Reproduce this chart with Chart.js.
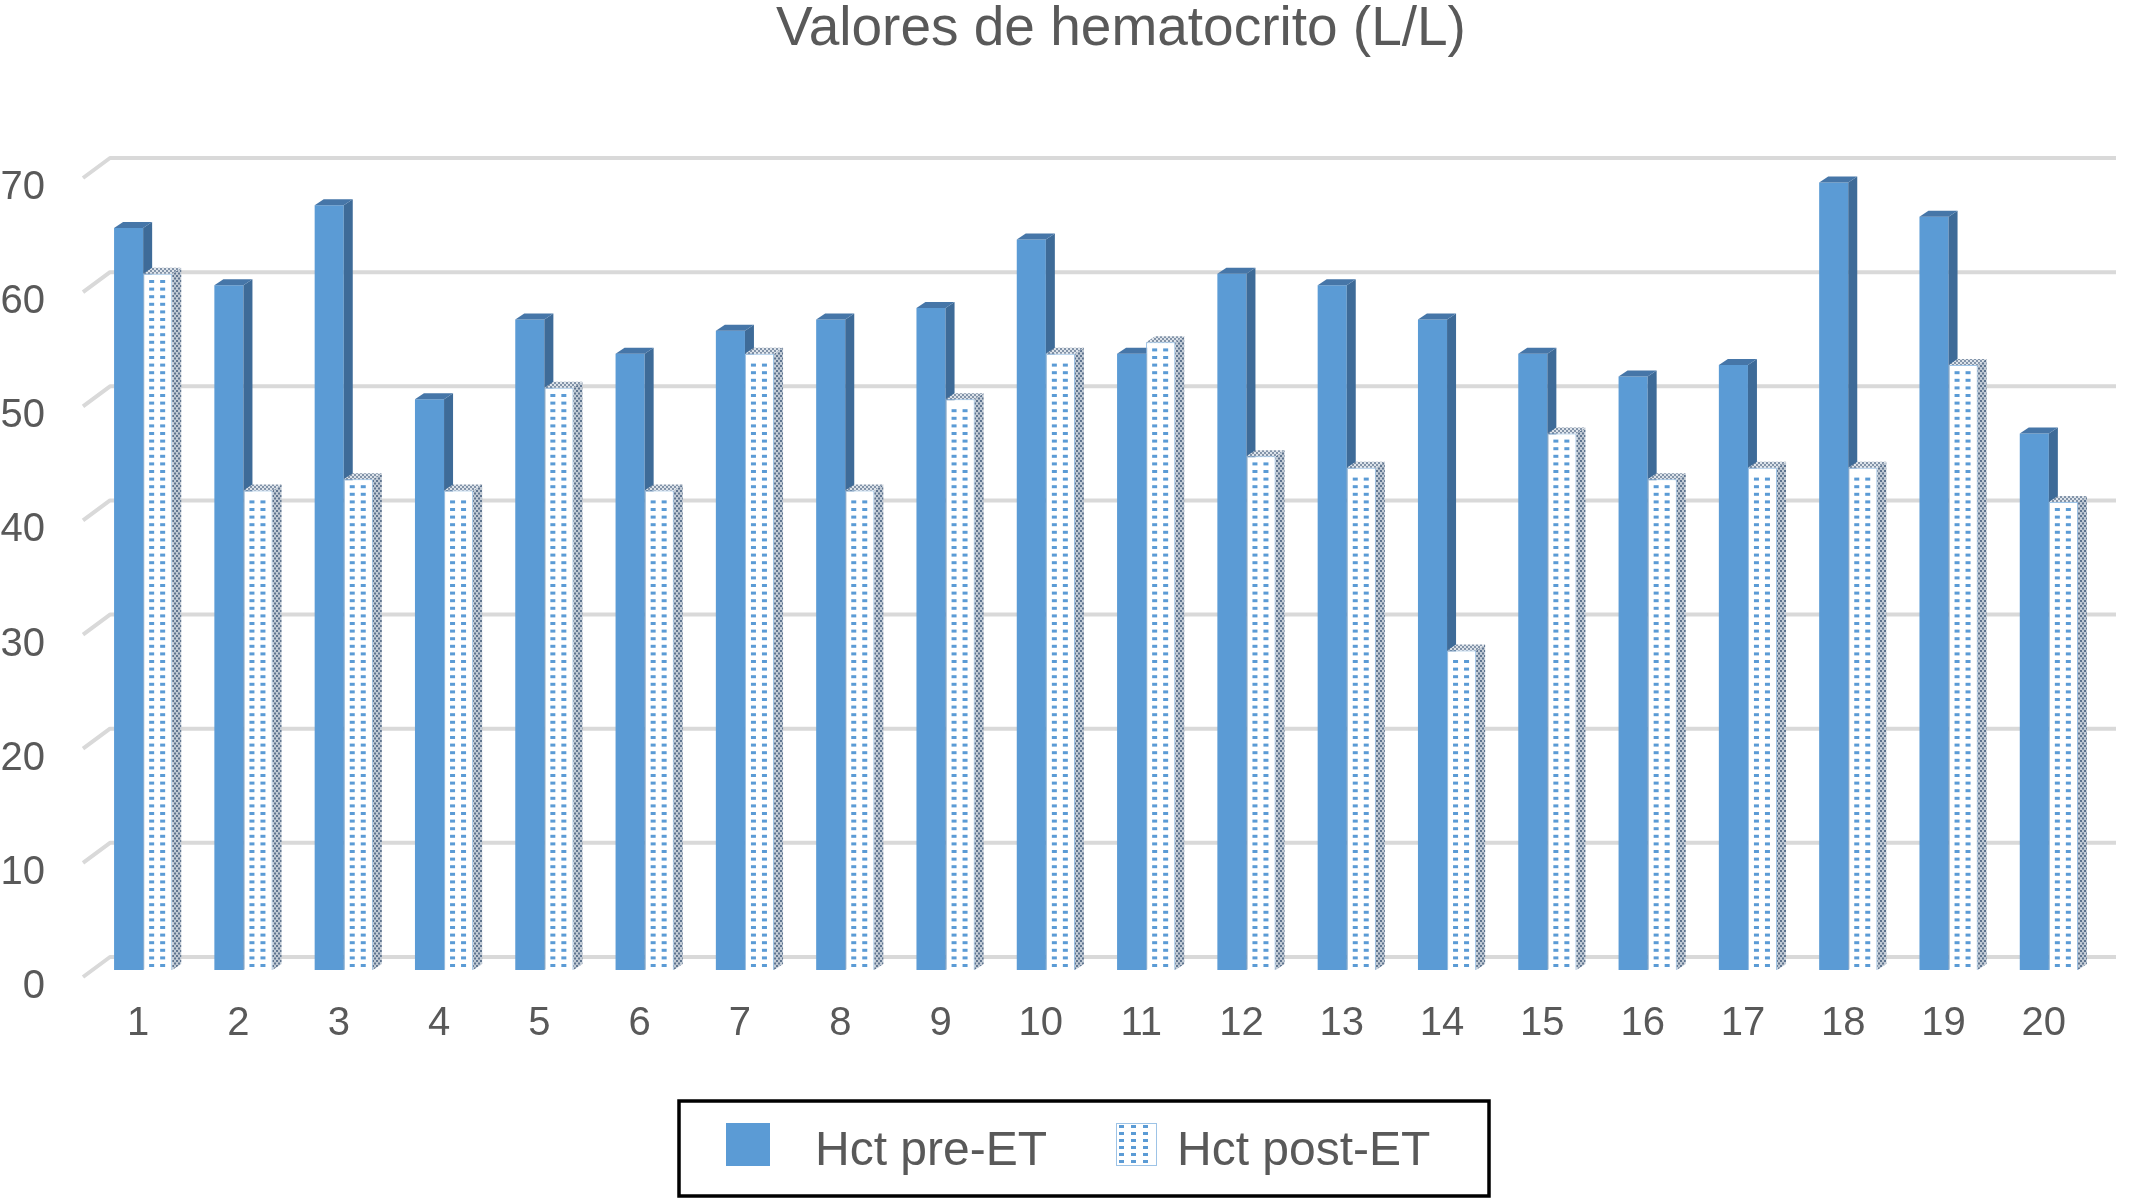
<!DOCTYPE html>
<html>
<head>
<meta charset="utf-8">
<script src="https://cdn.jsdelivr.net/npm/chart.js@4.4.0/dist/chart.umd.min.js"></script>
<style>
  html, body { margin: 0; padding: 0; background: #fff; }
</style>
</head>
<body>
<canvas id="hct-chart" width="2139" height="1201"></canvas>
<script>
let patients = ['1', '2', '3', '4', '5', '6', '7', '8', '9', '10',
    '11', '12', '13', '14', '15', '16', '17', '18', '19', '20'];
let hct_pre = [65, 60, 67, 50, 57, 54, 56, 57, 58, 64, 54, 61, 60, 57, 54, 52, 53, 69, 66, 47];
let hct_post = [61, 42, 43, 42, 51, 42, 54, 42, 50, 54, 55, 45, 44, 28, 47, 43, 44, 44, 53, 41];
let y_ticks = [0, 10, 20, 30, 40, 50, 60, 70];
let chart_title = 'Valores de hematocrito (L/L)';
let legend_labels = ['Hct pre-ET', 'Hct post-ET'];

const TEXT = '#595959';
const BLUE = '#5b9bd5';
const DX = 9, DY = 6;

Chart.defaults.font.family = '"Liberation Sans", Arial, sans-serif';

function makePattern(bg, dot, w, h) {
    const c = document.createElement('canvas');
    c.width = w; c.height = h;
    const g = c.getContext('2d');
    g.fillStyle = bg;
    g.fillRect(0, 0, w, h);
    g.fillStyle = dot;
    g.fillRect(0, 0, 2, 2);
    g.fillRect(w / 2, h / 2, 2, 2);
    return document.getElementById('hct-chart').getContext('2d').createPattern(c, 'repeat');
}

function poly(ctx, pts, fill) {
    ctx.beginPath();
    ctx.moveTo(pts[0][0], pts[0][1]);
    for (let k = 1; k < pts.length; k++) ctx.lineTo(pts[k][0], pts[k][1]);
    ctx.closePath();
    ctx.fillStyle = fill;
    ctx.fill();
}

const sidePattern = makePattern('#c2cbd5', '#5f7590', 4, 5);
const topPattern = makePattern('#dde3ea', '#8394a9', 4, 4);

// dashes on the front of the post bars
function dashes(ctx, l, top, base, x0, w) {
    ctx.fillStyle = BLUE;
    for (let yy = base - 6; yy > top + 3; yy -= 7.6) {
        ctx.fillRect(l + x0, yy, w, 3);
        ctx.fillRect(l + x0 + 11, yy, w, 3);
    }
}

const bars3d = {
    id: 'bars3d',
    beforeDatasetsDraw(chart) {
        const ctx = chart.ctx, y = chart.scales.y, area = chart.chartArea;
        ctx.save();
        ctx.strokeStyle = '#d9d9d9';
        ctx.lineWidth = 4;
        ctx.lineJoin = 'round';
        y.ticks.forEach(t => {
            const py = y.getPixelForValue(t.value);
            ctx.beginPath();
            ctx.moveTo(area.left - 10, py + 7);
            ctx.lineTo(area.left + 17, py - 13);
            ctx.lineTo(area.right + 17, py - 13);
            ctx.stroke();
        });
        ctx.restore();
    },
    afterDatasetsDraw(chart) {
        const ctx = chart.ctx;
        const pre = chart.getDatasetMeta(0), post = chart.getDatasetMeta(1);
        ctx.save();
        pre.data.forEach((el, i) => {
            let a = el.getProps(['x', 'y', 'base', 'width'], true);
            let l = a.x - a.width / 2, r = a.x + a.width / 2;
            poly(ctx, [[r, a.y], [r + DX, a.y - DY], [r + DX, a.base - DY], [r, a.base]], '#3e6b98');
            poly(ctx, [[l, a.y], [l + DX, a.y - DY], [r + DX, a.y - DY], [r, a.y]], '#4676a8');

            let p = post.data[i];
            p.draw(ctx);
            let b = p.getProps(['x', 'y', 'base', 'width'], true);
            l = b.x - b.width / 2; r = b.x + b.width / 2;
            dashes(ctx, l, b.y, b.base, 6, 5);
            poly(ctx, [[r, b.y], [r + DX, b.y - DY], [r + DX, b.base - DY], [r, b.base]], sidePattern);
            poly(ctx, [[l, b.y], [l + DX, b.y - DY], [r + DX, b.y - DY], [r, b.y]], topPattern);
        });
        ctx.restore();
    },
    afterDraw(chart) {
        const ctx = chart.ctx;
        ctx.save();
        // title
        ctx.fillStyle = TEXT;
        ctx.textAlign = 'center';
        ctx.textBaseline = 'middle';
        ctx.font = '55px "Liberation Sans", Arial, sans-serif';
        ctx.fillText(chart_title, 1121, 30);

        // legend
        ctx.strokeStyle = '#000';
        ctx.lineWidth = 3.5;
        ctx.strokeRect(679, 1101, 810, 95);
        ctx.fillStyle = BLUE;
        ctx.fillRect(726, 1123, 44, 43);
        ctx.fillStyle = '#9dc3e6';
        ctx.fillRect(1116, 1123, 41, 43);
        ctx.fillStyle = '#fff';
        ctx.fillRect(1117, 1124, 39, 41);
        ctx.fillStyle = BLUE;
        for (let yy = 1125; yy < 1163; yy += 7) {
            for (let xx = 1119; xx < 1155; xx += 12) ctx.fillRect(xx, yy, 5, 3);
        }
        ctx.fillStyle = TEXT;
        ctx.textAlign = 'left';
        ctx.font = '48px "Liberation Sans", Arial, sans-serif';
        ctx.fillText(legend_labels[0], 815, 1152);
        ctx.fillText(legend_labels[1], 1177, 1152);
        ctx.restore();
    }
};

new Chart(document.getElementById('hct-chart'), {
    type: 'bar',
    data: {
        labels: patients,
        datasets: [
            {
                label: legend_labels[0],
                data: hct_pre,
                backgroundColor: BLUE,
                borderWidth: 0,
                categoryPercentage: 0.58,
                barPercentage: 1.0
            },
            {
                label: legend_labels[1],
                data: hct_post,
                backgroundColor: '#ffffff',
                borderColor: '#9dc3e6',
                borderWidth: 1,
                categoryPercentage: 0.58,
                barPercentage: 1.0
            }
        ]
    },
    options: {
        responsive: false,
        animation: false,
        devicePixelRatio: 1,
        layout: { padding: { top: 171, left: 0, right: 40, bottom: 0 } },
        plugins: {
            legend: { display: false },
            title: { display: false },
            tooltip: { enabled: false }
        },
        scales: {
            x: {
                grid: { display: false, drawTicks: false },
                border: { display: false },
                ticks: { color: TEXT, font: { size: 40 }, padding: 30, maxRotation: 0, labelOffset: -5 },
                afterFit: s => { s.height = 231; }
            },
            y: {
                min: 0,
                max: 70,
                grid: { display: false, drawTicks: false },
                border: { display: false },
                ticks: { color: TEXT, font: { size: 40 }, padding: 48, labelOffset: 17 },
                afterBuildTicks: s => { s.ticks = y_ticks.map(v => ({ value: v })); },
                afterFit: s => { s.width = 93; }
            }
        }
    },
    plugins: [bars3d]
});
</script>
</body>
</html>
